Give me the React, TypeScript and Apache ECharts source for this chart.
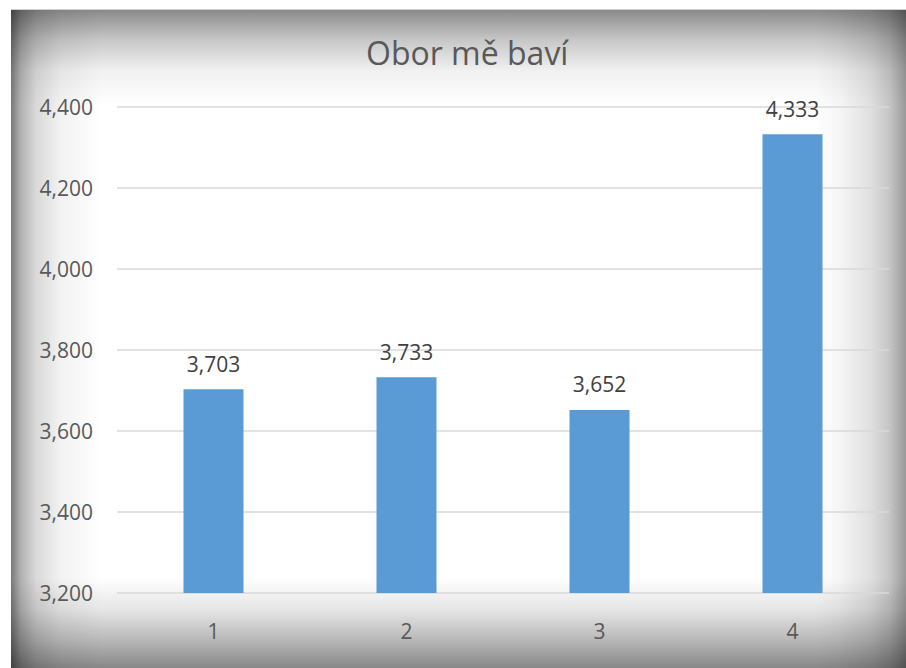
import React, { useEffect, useRef } from "react";
import * as echarts from "echarts";

const categories = ["1", "2", "3", "4"];
const values = [3.703, 3.733, 3.652, 4.333];
const titleText = "Obor mě baví";
const yMin = 3.2;
const yMax = 4.4;
const yStep = 0.2;

const fmt = (v: number) => v.toFixed(3).replace(".", ",");

const vignette = [
  "linear-gradient(to bottom, rgba(0,0,0,0.46) 0px, rgba(0,0,0,0.22) 30px, rgba(0,0,0,0.06) 60px, rgba(0,0,0,0) 95px)",
  "linear-gradient(to top, rgba(0,0,0,0.47) 0px, rgba(0,0,0,0.28) 28px, rgba(0,0,0,0.1) 58px, rgba(0,0,0,0) 90px)",
  "linear-gradient(to right, rgba(0,0,0,0.53) 0px, rgba(0,0,0,0.3) 10px, rgba(0,0,0,0.15) 25px, rgba(0,0,0,0.05) 50px, rgba(0,0,0,0) 90px)",
  "linear-gradient(to left, rgba(0,0,0,0.4) 0px, rgba(0,0,0,0.23) 16px, rgba(0,0,0,0.12) 36px, rgba(0,0,0,0.04) 66px, rgba(0,0,0,0) 90px)",
].join(", ");

export default function App() {
  const ref = useRef<HTMLDivElement>(null);
  useEffect(() => {
    if (!ref.current) return;
    const chart = echarts.init(ref.current, null, { renderer: "svg" });
    chart.setOption({
      animation: false,
      title: {
        text: titleText,
        left: 361,
        top: 31,
        textStyle: { fontFamily: "Open Sans", fontSize: 32, fontWeight: "normal", color: "#595959" },
      },
      grid: { left: 117, right: 17, top: 107, bottom: 75 },
      xAxis: {
        type: "category",
        data: categories,
        axisLine: { show: false },
        axisTick: { show: false },
        axisLabel: { fontFamily: "Open Sans", fontSize: 21, color: "#595959", margin: 27 },
      },
      yAxis: {
        type: "value",
        min: yMin,
        max: yMax,
        interval: yStep,
        axisLine: { show: false },
        axisTick: { show: false },
        splitLine: { lineStyle: { color: "#d9d9d9", width: 1.5 } },
        axisLabel: {
          fontFamily: "Open Sans",
          fontSize: 21,
          color: "#595959",
          margin: 24,
          formatter: (v: number) => fmt(v),
        },
      },
      series: [
        {
          type: "bar",
          data: values,
          barWidth: 60,
          itemStyle: { color: "#5b9bd5" },
          label: {
            show: true,
            position: "top",
            distance: 15,
            fontFamily: "Open Sans",
            fontSize: 21,
            color: "#404040",
            formatter: (p: any) => fmt(p.value),
          },
        },
      ],
    });
    return () => chart.dispose();
  }, []);
  return (
    <div style={{ position: "fixed", left: 0, top: 0, width: 906, height: 668, background: "#fff", overflow: "hidden" }}>
      <div
        style={{
          position: "absolute",
          left: 11,
          top: 9,
          width: 895,
          height: 659,
          backgroundColor: "#fff",
          backgroundImage: vignette,
          borderTop: "1px solid #d0d0d0",
          boxSizing: "border-box",
        }}
      />
      <div ref={ref} style={{ position: "absolute", left: 0, top: 0, width: 906, height: 668 }} />
    </div>
  );
}
